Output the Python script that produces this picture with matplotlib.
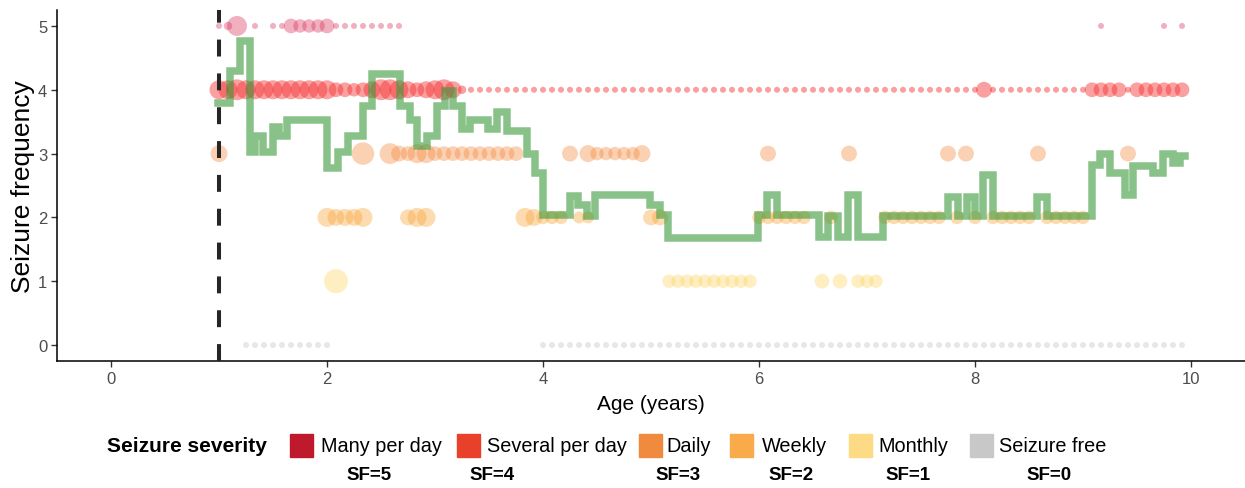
#!/usr/bin/env python3
"""Seizure frequency over age: monthly records (bubbles) + smoothed trend (step line)."""

import matplotlib
matplotlib.use("Agg")
import matplotlib.pyplot as plt
from matplotlib.patches import Rectangle
import numpy as np

# ── Data (ages in months, counts = number of records) ───────────────────────
# SF=5  many per day
sf5_month = [12, 13, 14, 16, 18, 19, 20, 21, 22, 23, 24,
             25, 26, 27, 28, 29, 30, 31, 32, 110, 117, 119]
sf5_count = [1, 2, 11, 1, 1, 1, 6, 5, 5, 5, 6,
             1, 1, 1, 1, 1, 1, 1, 1, 1, 1, 1]

# SF=4  several per day
sf4_month = [12, 13, 14, 15, 16, 17, 18, 19, 20, 21, 22, 23, 24,
             25, 26, 27, 28, 29, 30, 31, 32, 33, 34, 35, 36, 37, 38, 39,
             40, 41, 42, 43, 44, 45, 46, 47, 48, 49, 50, 51, 52, 53, 54,
             55, 56, 57, 58, 59, 60, 61, 62, 63, 64, 65, 66, 67, 68, 69,
             70, 71, 72, 73, 74, 75, 76, 77, 78, 79, 80, 81, 82, 83, 84,
             85, 86, 87, 88, 89, 90, 91, 92, 93, 94, 95, 96, 97, 98, 99,
             100, 101, 102, 103, 104, 105, 106, 107, 108,
             109, 110, 111, 112, 113, 114, 115, 116, 117, 118, 119]
sf4_count = [10, 10, 12, 10, 10, 10, 10, 10, 10, 10, 10, 10, 10,
             6, 6, 5, 6, 8, 12, 12, 10, 8, 6, 8, 10, 12, 8, 2,
             1, 1, 1, 1, 1, 1, 1, 1, 1, 1, 1, 1, 1, 1, 1,
             1, 1, 1, 1, 1, 1, 1, 1, 1, 1, 1, 1, 1, 1, 1,
             1, 1, 1, 1, 1, 1, 1, 1, 1, 1, 1, 1, 1, 1, 1,
             1, 1, 1, 1, 1, 1, 1, 1, 1, 1, 1, 1, 7, 1, 1,
             1, 1, 1, 1, 1, 1, 1, 1, 1,
             6, 6, 6, 6, 1, 6, 6, 6, 6, 6, 6]

# SF=3  daily
sf3_month = [12, 28, 31, 32, 33, 34, 35, 36, 37, 38, 39, 40, 41, 42, 43, 44, 45,
             51, 53, 54, 55, 56, 57, 58, 59, 73, 82, 93, 95, 103, 113]
sf3_count = [8, 14, 12, 7, 6, 10, 10, 6, 6, 6, 6, 6, 6, 6, 6, 6, 6,
             7, 8, 5, 5, 5, 5, 5, 8, 7, 7, 7, 7, 7, 7]

# SF=2  weekly
sf2_month = [24, 25, 26, 27, 28, 33, 34, 35, 46, 47, 48, 49, 50, 52, 53, 60, 61,
             72, 73, 74, 75, 76, 77, 80, 86, 87, 88, 89, 90, 91, 92, 94, 96,
             98, 99, 100, 101, 102, 104, 105, 106, 107, 108]
sf2_count = [10, 8, 8, 8, 10, 7, 10, 10, 10, 8, 5, 5, 5, 4, 4, 7, 7,
             5, 5, 5, 5, 5, 5, 5, 5, 5, 5, 5, 5, 5, 5, 5, 5,
             5, 5, 5, 5, 5, 5, 5, 5, 5, 5]

# SF=1  monthly
sf1_month = [25, 62, 63, 64, 65, 66, 67, 68, 69, 70, 71, 79, 81, 83, 84, 85]
sf1_count = [16, 5, 5, 5, 5, 5, 5, 5, 5, 5, 5, 6, 6, 5, 5, 5]

# SF=0  seizure free
sf0_month = [15, 16, 17, 18, 19, 20, 21, 22, 23, 24,
             48, 49, 50, 51, 52, 53, 54, 55, 56, 57, 58, 59, 60, 61, 62, 63,
             64, 65, 66, 67, 68, 69, 70, 71, 72, 73, 74, 75, 76, 77, 78, 79,
             80, 81, 82, 83, 84, 85, 86, 87, 88, 89, 90, 91, 92, 93, 94, 95,
             96, 97, 98, 99, 100, 101, 102, 103, 104, 105, 106, 107, 108, 109,
             110, 111, 112, 113, 114, 115, 116, 117, 118, 119]

# Smoothed trend (step starts in years, value)
trend_age = [0.99, 1.10, 1.19, 1.29, 1.33, 1.41, 1.50, 1.56, 1.63, 2.00, 2.10,
             2.19, 2.33, 2.42, 2.68, 2.77, 2.83, 2.93, 3.02, 3.09, 3.17, 3.25,
             3.32, 3.49, 3.57, 3.67, 3.85, 3.93, 4.00, 4.25, 4.32, 4.41, 4.48,
             4.99, 5.08, 5.16, 5.99, 6.07, 6.17, 6.56, 6.64, 6.73, 6.82, 6.92,
             7.15, 7.75, 7.84, 7.93, 8.00, 8.07, 8.17, 8.57, 8.67, 9.08, 9.16,
             9.25, 9.39, 9.46, 9.65, 9.74, 9.83, 9.90, 9.94]
trend_val = [3.80, 4.30, 4.77, 3.03, 3.28, 3.03, 3.42, 3.28, 3.52, 2.77, 3.03,
             3.28, 3.75, 4.25, 3.75, 3.52, 3.12, 3.28, 3.75, 3.98, 3.75, 3.39,
             3.52, 3.39, 3.65, 3.36, 3.00, 2.69, 2.03, 2.33, 2.19, 2.02, 2.35,
             2.19, 2.03, 1.67, 2.03, 2.35, 2.03, 1.70, 2.02, 1.70, 2.35, 1.70,
             2.02, 2.32, 2.02, 2.32, 2.02, 2.66, 2.02, 2.32, 2.02, 2.82, 3.00,
             2.69, 2.35, 2.81, 2.69, 3.00, 2.86, 2.97, 2.97]

onset_age = 1.0

legend_labels = ["Many per day", "Several per day", "Daily", "Weekly",
                 "Monthly", "Seizure free"]
legend_sf = ["SF=5", "SF=4", "SF=3", "SF=2", "SF=1", "SF=0"]

# ── Style ────────────────────────────────────────────────────────────────────
FONT = "Liberation Sans"
plt.rcParams.update({
    "font.family": FONT,
    "axes.linewidth": 1.1,
})

legend_cols = ["#be1a2c", "#e8402a", "#f08a3e", "#f9ab49", "#fcdb84", "#c8c8c8"]
point_cols = {5: ("#d8305a", 0.38), 4: ("#f52d2d", 0.45), 3: ("#f5863a", 0.38),
              2: ("#f9a63a", 0.40), 1: ("#fdd668", 0.40), 0: ("#c4c4c4", 0.40)}

W, H = 1245, 489
fig = plt.figure(figsize=(W / 100, H / 100), dpi=100)
ax = fig.add_axes([57 / W, 1 - 362 / H, 1 - 57 / W, (362 - 11) / H])

S_PER_COUNT = 18.7  # marker area (pt^2) per record

series = [(5, sf5_month, sf5_count), (4, sf4_month, sf4_count),
          (3, sf3_month, sf3_count), (2, sf2_month, sf2_count),
          (1, sf1_month, sf1_count), (0, sf0_month, [1] * len(sf0_month))]
for lvl, months, counts in series:
    c, a = point_cols[lvl]
    ax.scatter(np.array(months) / 12, [lvl] * len(months),
               s=np.array(counts) * S_PER_COUNT, color=c, alpha=a,
               linewidths=0, zorder=2)

ax.plot(trend_age, trend_val, drawstyle="steps-post", color="#3a9a3a",
        alpha=0.6, lw=5.4, solid_joinstyle="miter", zorder=3)

# dashed onset marker, dash pattern anchored at the x-axis
ax.plot([onset_age, onset_age], [-0.25, 5.25], color="#262626", lw=2.9,
        ls=(0, (4.2, 4.2)), solid_capstyle="butt", zorder=4)

ax.set_xlim(-0.5, 10.5)
ax.set_ylim(-0.25, 5.25)
ax.set_xticks([0, 2, 4, 6, 8, 10])
ax.set_yticks([0, 1, 2, 3, 4, 5])
ax.spines[["top", "right"]].set_visible(False)
ax.tick_params(length=4, width=1.0, color="#333333", labelcolor="#4d4d4d",
               labelsize=12, pad=3)
ax.set_xlabel("Age (years)", fontsize=15, labelpad=6)
ax.set_ylabel("Seizure frequency", fontsize=19, labelpad=2)

# ── Custom legend below the panel ───────────────────────────────────────────
def fx(px):
    return px / W

def fy(py):
    return 1 - py / H

fig.text(fx(267), fy(447), "Seizure severity", fontsize=15, fontweight="bold",
         va="center", ha="right")
patch_x = [290, 457, 639, 730, 849, 970]
text_x = [321, 487, 666, 762, 878, 999]
sf_x = [369, 492, 678, 791, 908, 1049]
for col, px, tx, sx, lab, sf in zip(legend_cols, patch_x, text_x, sf_x,
                                    legend_labels, legend_sf):
    fig.patches.append(Rectangle((fx(px), fy(458)), fx(23), 23 / H,
                                 transform=fig.transFigure, color=col))
    fig.text(fx(tx), fy(447), lab, fontsize=14.3, va="center", ha="left")
    fig.text(fx(sx), fy(476), sf, fontsize=13.5, fontweight="bold",
             va="center", ha="center")

fig.savefig("out.png", dpi=100, facecolor="white")
